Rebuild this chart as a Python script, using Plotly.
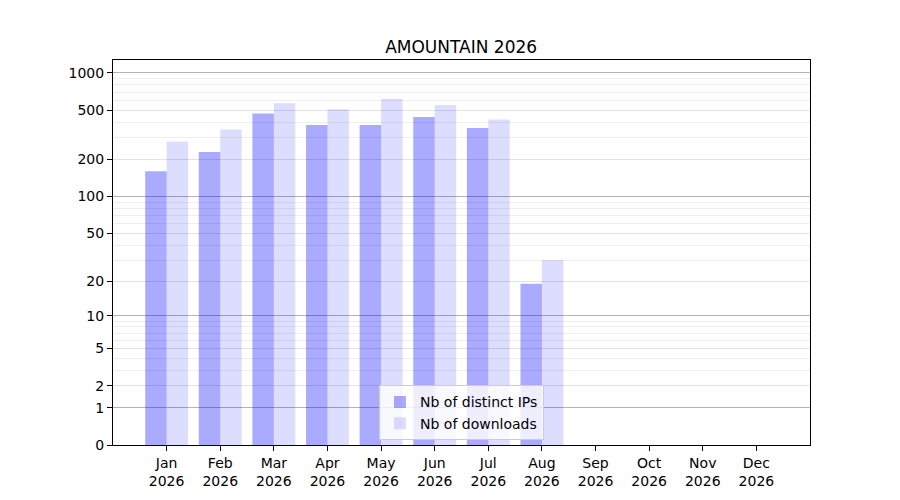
import plotly.graph_objects as go

months = ["Jan", "Feb", "Mar", "Apr", "May", "Jun", "Jul", "Aug", "Sep", "Oct", "Nov", "Dec"]
year = "2026"
distinct_ips = [160, 230, 470, 380, 380, 440, 360, 19, 0, 0, 0, 0]
downloads = [280, 350, 570, 510, 620, 550, 420, 30, 0, 0, 0, 0]

tick_labels = [0, 1, 2, 5, 10, 20, 50, 100, 200, 500, 1000]
major_grid = [1, 10, 100, 1000]
minor_grid = [m * d for d in (1, 10, 100) for m in range(2, 10)]

labels = ["%s<br>%s" % (m, year) for m in months]

# values are shown on a log(1 + x) scale so zero stays on the axis
shift = lambda vals: [v + 1 for v in vals]

fig = go.Figure()
fig.add_trace(
    go.Bar(name="Nb of distinct IPs", x=labels, y=shift(distinct_ips),
           marker=dict(color="rgba(0,0,255,0.333)", line=dict(width=0)))
)
fig.add_trace(
    go.Bar(name="Nb of downloads", x=labels, y=shift(downloads),
           marker=dict(color="rgba(0,0,255,0.135)", line=dict(width=0)))
)

# the page body has an 8px margin, so the figure is a bit smaller than the window
yrange = [0, 3.105]
fig.update_layout(
    width=892,
    height=492,
    margin=dict(l=104.5, r=90, t=52, b=55),
    paper_bgcolor="white",
    plot_bgcolor="white",
    font=dict(family="DejaVu Sans", size=14, color="black"),
    title=dict(text="AMOUNTAIN 2026", x=0.508, xanchor="center", y=0.9208, yanchor="middle",
               font=dict(size=17)),
    barmode="group",
    bargap=0.2,
    bargroupgap=0,
    showlegend=True,
    legend=dict(x=0.5, xanchor="center", y=0.012, yanchor="bottom",
                bgcolor="rgba(255,255,255,0.8)", bordercolor="#cccccc", borderwidth=1,
                font=dict(size=14)),
    xaxis=dict(range=[-1, 12], showline=True, linecolor="black", mirror=True, linewidth=1,
               ticks="outside", ticklen=5, tickcolor="black", showgrid=False),
    yaxis=dict(type="log", range=yrange, showline=True, linecolor="black", mirror=True,
               linewidth=1, ticks="outside", ticklen=5, tickcolor="black",
               tickvals=shift(tick_labels), ticktext=[str(t) for t in tick_labels],
               showgrid=True, gridcolor="rgba(200,200,200,0.3)", gridwidth=1, zeroline=False,
               minor=dict(tickvals=shift(minor_grid), showgrid=True,
                          gridcolor="rgba(200,200,200,0.3)", ticks="")),
    yaxis2=dict(type="log", range=yrange, overlaying="y", showticklabels=False, ticks="",
                tickvals=shift(major_grid), showgrid=True, gridcolor="rgba(140,140,140,0.6)",
                zeroline=False, showline=False),
)
# invisible trace to anchor the darker grid axis
fig.add_trace(go.Scatter(x=[labels[0]], y=[1], yaxis="y2", mode="markers",
                         marker=dict(opacity=0), showlegend=False, hoverinfo="skip"))

fig.write_html("out.html")
